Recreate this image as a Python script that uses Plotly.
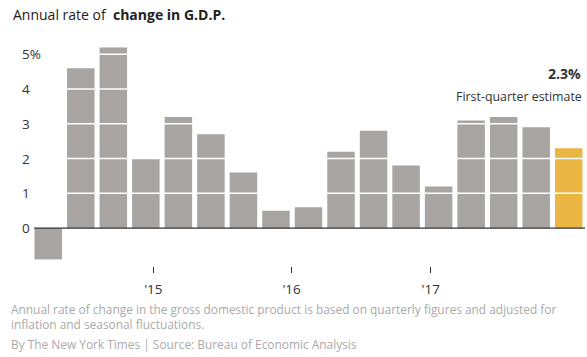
import plotly.graph_objects as go

quarters = ["2014 Q1", "2014 Q2", "2014 Q3", "2014 Q4",
            "2015 Q1", "2015 Q2", "2015 Q3", "2015 Q4",
            "2016 Q1", "2016 Q2", "2016 Q3", "2016 Q4",
            "2017 Q1", "2017 Q2", "2017 Q3", "2017 Q4",
            "2018 Q1"]
gdp_change = [-0.9, 4.6, 5.2, 2.0, 3.2, 2.7, 1.6, 0.5, 0.6, 2.2, 2.8, 1.8,
              1.2, 3.1, 3.2, 2.9, 2.3]
ytick_vals = [0, 1, 2, 3, 4, 5]
ytick_text = ["0", "1", "2", "3", "4", "5%"]
xtick_pos = [3.23, 7.48, 11.76]
xtick_text = ["'15", "'16", "'17"]

W, H = 587, 357
PLOT_L, PLOT_R, PLOT_T, PLOT_B = 32, 585, 37, 266  # screen px
ML, MR, MT, MB = PLOT_L, W - PLOT_R, PLOT_T, H - PLOT_B
PW, PH = W - ML - MR, H - MT - MB

def px_x(p):
    return (p - PLOT_L) / PW

def px_y(p):
    return (PLOT_B - p) / PH

GRAY = "#a7a4a1"
GOLD = "#eab543"
colors = [GRAY] * (len(gdp_change) - 1) + [GOLD]
xpos = list(range(len(quarters)))

fig = go.Figure()
fig.add_trace(go.Bar(x=xpos, y=gdp_change, marker=dict(color=colors, line=dict(width=0)),
                     hovertext=quarters, showlegend=False))

shapes = []
for v in ytick_vals[1:]:
    shapes.append(dict(type="line", xref="paper", yref="y", x0=0, x1=1, y0=v, y1=v,
                       line=dict(color="white", width=1.5), layer="above"))
shapes.append(dict(type="line", xref="paper", yref="y", x0=px_x(34), x1=1, y0=0, y1=0,
                   line=dict(color="#333333", width=1.2), layer="above"))

FONT = "Open Sans"
annotations = []
for v, t in zip(ytick_vals, ytick_text):
    annotations.append(dict(xref="paper", yref="y", x=px_x(20), y=v, text=t,
                            xanchor="left", yanchor="middle", showarrow=False,
                            font=dict(family=FONT, size=13.5, color="#333333")))

annotations.append(dict(xref="paper", yref="paper", x=px_x(583), y=px_y(73),
                        text="<b>2.3%</b>", xanchor="right", yanchor="middle",
                        showarrow=False, font=dict(family=FONT, size=14, color="#333333")))
annotations.append(dict(xref="paper", yref="paper", x=px_x(584), y=px_y(97),
                        text="First-quarter estimate", xanchor="right", yanchor="middle",
                        showarrow=False, font=dict(family=FONT, size=12.4, color="#333333")))

note_text = ("Annual rate of change in the gross domestic product is based on quarterly figures and adjusted for"
             "<br>inflation and seasonal fluctuations.")
credit_text = "By The New York Times | Source: Bureau of Economic Analysis"
annotations.append(dict(xref="paper", yref="paper", x=px_x(9), y=px_y(316.5), text=note_text,
                        xanchor="left", yanchor="middle", align="left", showarrow=False,
                        font=dict(family=FONT, size=11.9, color="#aaaaaa")))
annotations.append(dict(xref="paper", yref="paper", x=px_x(9), y=px_y(344), text=credit_text,
                        xanchor="left", yanchor="middle", align="left", showarrow=False,
                        font=dict(family=FONT, size=11.9, color="#aaaaaa")))

fig.update_layout(
    width=W, height=H,
    margin=dict(l=ML, r=MR, t=MT, b=MB, pad=0),
    paper_bgcolor="white", plot_bgcolor="white",
    bargap=0.155,
    title=dict(text="Annual rate of  <b>change in G.D.P.</b>", x=13 / W, xanchor="left",
               y=1 - 15 / H, yanchor="middle",
               font=dict(family=FONT, size=14, color="#222222")),
    xaxis=dict(range=[-0.5, len(quarters) - 0.5], tickmode="array", tickvals=xtick_pos,
               ticktext=xtick_text, ticks="outside", ticklen=6, tickwidth=1,
               tickcolor="#333333", showgrid=False, zeroline=False, showline=False,
               ticklabelstandoff=5,
               tickfont=dict(family=FONT, size=13.5, color="#333333"), fixedrange=True),
    yaxis=dict(range=[-1.09, 5.5], showgrid=False, zeroline=False, showticklabels=False,
               showline=False, fixedrange=True),
    shapes=shapes, annotations=annotations,
)

fig.write_html("out.html", config={"displayModeBar": False},
               post_script="document.body.style.margin='0';document.body.style.overflow='hidden';")
